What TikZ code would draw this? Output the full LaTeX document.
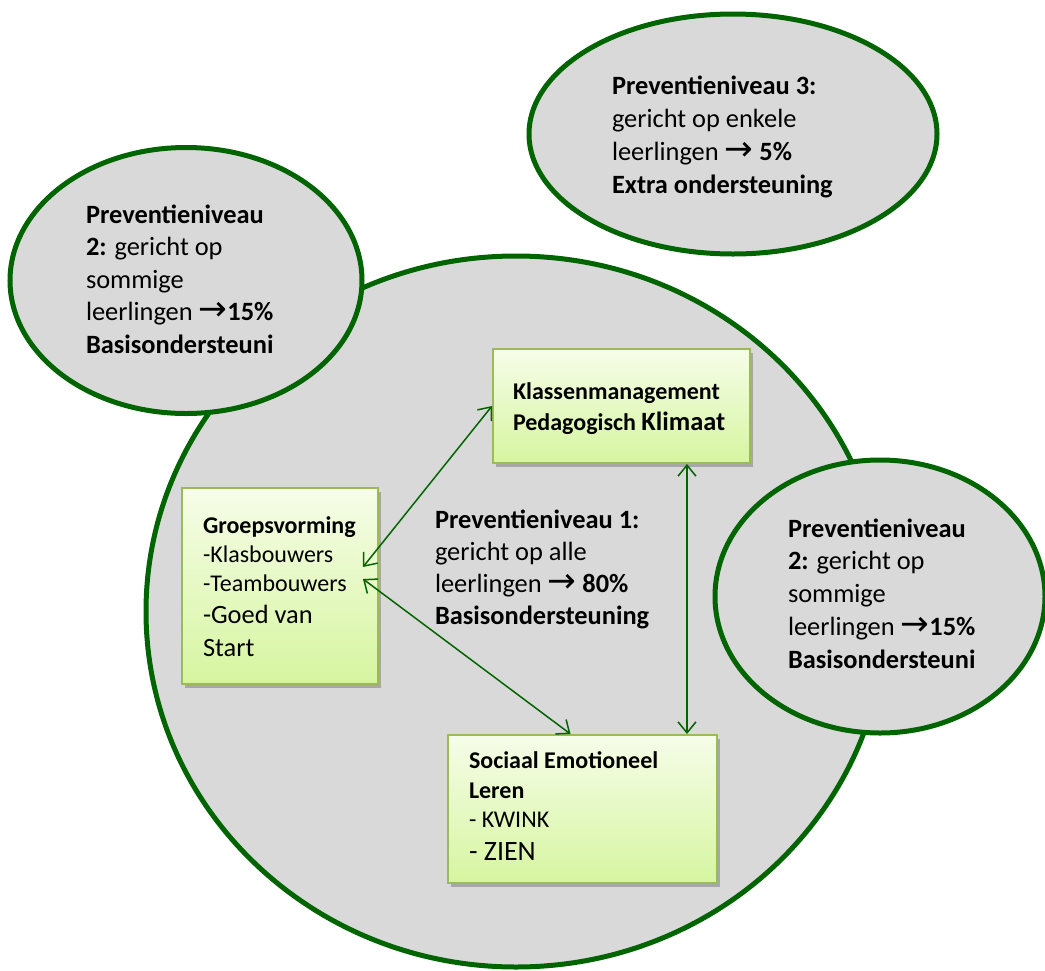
\documentclass[tikz,border=0pt]{standalone}
\usepackage{fontspec}
\setmainfont{Carlito}
\newfontfamily\arrowfont{DejaVu Sans}
\usetikzlibrary{arrows.meta,shadows,calc,shapes.geometric}
\definecolor{dgreen}{RGB}{0,100,0}
\definecolor{circfill}{RGB}{217,217,217}
\definecolor{boxtop}{RGB}{246,253,232}
\definecolor{boxbot}{RGB}{214,245,160}
\definecolor{boxline}{RGB}{155,187,89}
\newcommand{\myarr}{{\arrowfont\scalebox{1.3}{→}}}
\tikzset{
  bubble/.style={ellipse, draw=dgreen, fill=circfill, line width=5pt, inner sep=0pt, outer sep=0pt},
  greenbox/.style={rectangle, draw=boxline, line width=2pt, top color=boxtop, bottom color=boxbot,
    drop shadow={shadow xshift=3pt, shadow yshift=-4pt, opacity=0.35, fill=black!70}, inner sep=0pt},
  txt/.style={anchor=base west, inner sep=0pt, outer sep=0pt, text=black},
  conn/.style={draw=dgreen, line width=1.5pt,
    {Straight Barb[length=11pt,width=18pt]}-{Straight Barb[length=11pt,width=18pt]}}
}
\begin{document}
\begin{tikzpicture}[x=1pt,y=-1pt]
\useasboundingbox (0,0) rectangle (1045,970);
% big circle and bubbles
\node[bubble, minimum width=740pt, minimum height=711pt] (main) at (516,611.5) {};
\node[bubble, minimum width=352pt, minimum height=266pt] (lvl2a) at (186,280.5) {};
\node[bubble, minimum width=408pt, minimum height=240pt] (lvl3) at (733,134) {};
\node[bubble, minimum width=330pt, minimum height=273pt] (lvl2b) at (880,596.5) {};
% bubble texts
\node[txt] (t3) at (612,94) {\parbox[t]{320pt}{\fontsize{26.4}{33}\selectfont
  \textbf{Preventieniveau 3:}\\ gericht op enkele\\ leerlingen \myarr{} \textbf{5\%}\\ \textbf{Extra ondersteuning}}};
\node[txt] (t2a) at (86,223) {\parbox[t]{300pt}{\fontsize{26.4}{32.5}\selectfont
  \textbf{Preventieniveau}\\ \textbf{2:} gericht op\\ sommige\\ leerlingen \myarr\textbf{15\%}\\ \textbf{Basisondersteuni}}};
\node[txt] (t2b) at (788,537) {\parbox[t]{300pt}{\fontsize{26.4}{32.8}\selectfont
  \textbf{Preventieniveau}\\ \textbf{2:} gericht op\\ sommige\\ leerlingen \myarr\textbf{15\%}\\ \textbf{Basisondersteuni}}};
\node[txt] (t1) at (435,528) {\parbox[t]{300pt}{\fontsize{26.4}{32.3}\selectfont
  \textbf{Preventieniveau 1:}\\ gericht op alle\\ leerlingen \myarr{} \textbf{80\%}\\ \textbf{Basisondersteuning}}};
% boxes
\node[greenbox, minimum width=257pt, minimum height=114pt] (k) at (621.5,406) {};
\node[greenbox, minimum width=196pt, minimum height=196pt] (g) at (280,586) {};
\node[greenbox, minimum width=269pt, minimum height=148pt] (s) at (582.5,809) {};
\node[txt] (kt) at (513,399) {\parbox[t]{240pt}{\fontsize{24}{31}\selectfont\bfseries
  Klassenmanagement\\ Pedagogisch {\fontsize{26.4}{31}\selectfont Klimaat}}};
\node[txt] (gt) at (203,533) {\parbox[t]{180pt}{{\fontsize{24}{29}\selectfont\textbf{Groepsvorming}\par
  -Klasbouwers\par -Teambouwers\par}{\fontsize{26.4}{32.5}\selectfont -Goed van\par Start\par}}};
\node[txt] (st) at (469,768) {\parbox[t]{240pt}{{\fontsize{24}{30}\selectfont\bfseries Sociaal Emotioneel\par Leren\par}%
  {\fontsize{24}{29}\selectfont - KWINK\par}{\fontsize{28}{33}\selectfont - ZIEN\par}}};
% connectors
\coordinate (ga) at ($(g.east)+(-16,-19)$);
\coordinate (gb) at ($(g.east)+(-16,-7)$);
\coordinate (ka) at ($(k.west)+(0,0)$);
\coordinate (kb) at ($(k.south east)+(-64,0)$);
\coordinate (sa) at ($(s.north)+(-12,0)$);
\coordinate (sb) at ($(s.north east)+(-31,0)$);
\draw[conn] (ga) -- (ka);
\draw[conn] (gb) -- (sa);
\draw[conn] (kb) -- (sb);
\end{tikzpicture}
\end{document}
